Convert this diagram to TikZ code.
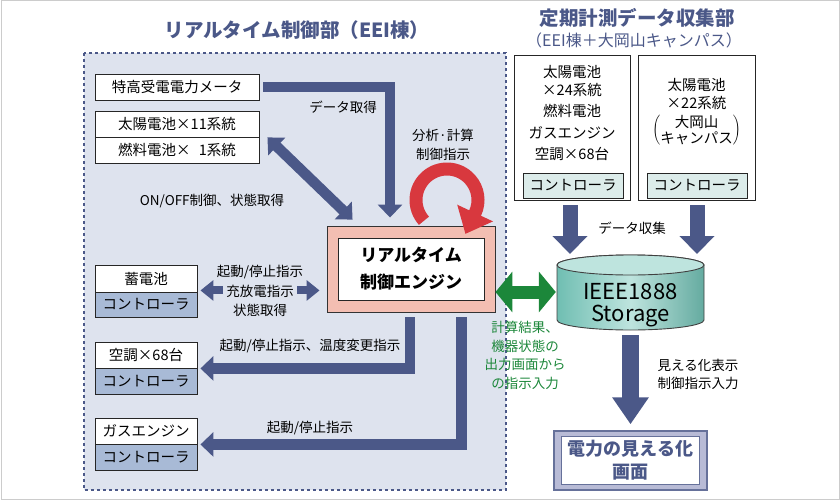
\documentclass[tikz,border=0pt]{standalone}
\usepackage{fontspec}
\setmainfont{Noto Sans CJK JP}
\usepackage{xcolor}
\usepackage{tikz}
\usetikzlibrary{calc,arrows.meta}
\definecolor{RTNavy}{RGB}{75, 88, 136}
\definecolor{RTRegion}{RGB}{222, 227, 238}
\definecolor{RTCtrl}{RGB}{168, 186, 214}
\definecolor{RTPink}{RGB}{243, 190, 178}
\definecolor{RTRed}{RGB}{216, 56, 62}
\definecolor{RTGreen}{RGB}{28, 135, 58}
\definecolor{RTTealCtrl}{RGB}{220, 236, 234}
\definecolor{RTTeal}{RGB}{112, 190, 178}
\definecolor{RTTealLight}{RGB}{190, 228, 222}
\definecolor{RTScreen}{RGB}{184, 187, 214}
\definecolor{RTFrame}{RGB}{204, 204, 204}
\newcommand{\fsz}[2]{\fontsize{#1}{#2}\selectfont}

\begin{document}
\begin{tikzpicture}[x=1pt, y=-1pt,
    box/.style={draw=black!85, line width=0.9pt, fill=white, inner sep=0pt, font=\fsz{14.5}{17}},
    ctrl/.style={box, fill=RTCtrl},
    lbl/.style={font=\fsz{13.5}{16}, align=center, inner sep=1pt},
    fat/.style={draw=RTNavy, line width=10.5pt, -{Triangle[length=13pt,width=24pt]}},
    fatboth/.style={draw=RTNavy, line width=10.5pt, {Triangle[length=13pt,width=24pt]}-{Triangle[length=13pt,width=24pt]}}]
    \useasboundingbox (0,0) rectangle (840,500);
    \draw[RTFrame, line width=1pt] (1,1) rectangle (839,499);

    % Realtime control area
    \fill[RTRegion] (84,53) rectangle (506,490);
    \draw[RTNavy, line width=2.4pt, dash pattern=on 3pt off 3pt] (84,53) rectangle (506,490);
    \node[font=\bfseries\fsz{19.5}{23}, text=RTNavy] (lefttitle) at (297,30) {リアルタイム制御部（EEI棟）};

    % Engine
    \node[draw=black!80, line width=0.9pt, fill=RTPink, minimum width=168pt, minimum height=86pt] (engine) at (411,269) {};
    \node[box, minimum width=146pt, minimum height=62pt, align=center, font=\bfseries\fsz{17}{27}] (enginein) at (411,269) {リアルタイム\\制御エンジン};

    % Devices (top)
    \node[box, minimum width=164pt, minimum height=26pt] (meter) at (177,87) {特高受電電力メータ};
    \node[box, minimum width=164pt, minimum height=26pt] (pv) at (177,124) {太陽電池×11系統};
    \node[box, minimum width=164pt, minimum height=26pt] (fc) at (177,150) {燃料電池×\hphantom{1}1系統};

    % Devices (bottom)
    \node[box, minimum width=102pt, minimum height=27pt] (bat) at (146,278.5) {蓄電池};
    \node[ctrl, minimum width=102pt, minimum height=25pt] (batc) at (146,304.5) {コントローラ};
    \node[box, minimum width=102pt, minimum height=26pt] (ac) at (146,355) {空調×68台};
    \node[ctrl, minimum width=102pt, minimum height=26pt] (acc) at (146,381) {コントローラ};
    \node[box, minimum width=102pt, minimum height=26pt] (ge) at (146,431) {ガスエンジン};
    \node[ctrl, minimum width=102pt, minimum height=26pt] (gec) at (146,457) {コントローラ};

    % Arrows in the control area
    \draw[fat] ([xshift=4pt]meter.east) -| ([xshift=-21pt,yshift=8pt]engine.north);
    \node[lbl] (getlbl) at (343,107) {データ取得};
    \draw[fatboth] ([xshift=8pt]pv.south east) -- ([xshift=26pt,yshift=6pt]engine.north west);
    \node[lbl] (onofflbl) at (212,201) {ON/OFF制御、状態取得};
    \node[lbl, font=\fsz{13.5}{19.5}] (calclbl) at (443,145) {分析·計算\\制御指示};
    \draw[draw=RTNavy, line width=8pt, {Triangle[length=13pt,width=20pt]}-{Triangle[length=13pt,width=20pt]}]
        ($(bat.south east)+(3,-2)$) -- ($(engine.west |- bat.south east)+(-7,-2)$);
    \node[lbl] (batlbl1) at (260,272) {起動/停止指示};
    \node[lbl, fill=RTRegion, inner sep=3pt] (batlbl2) at (260,291) {充放電指示};
    \node[lbl] (batlbl3) at (260,310) {状態取得};
    \draw[fat] ($(engine.south)+(-1,5)$) |- ([xshift=3pt]ac.south east);
    \node[lbl] (aclbl) at (310,346) {起動/停止指示、温度変更指示};
    \draw[fat] ($(engine.south east)+(-34,5)$) |- ([xshift=3pt]ge.south east);
    \node[lbl] (gelbl) at (310,428) {起動/停止指示};

    % Analysis loop
    \coordinate (loopc) at (447,200);
    \draw[RTRed, line width=13pt, -{Triangle[length=23pt,width=38pt]}]
        (loopc) ++(222:31pt) arc[start angle=222, end angle=-25, radius=31pt] -- ++(-9.7,20.8);

    % Periodic measurement area
    \node[font=\bfseries\fsz{19.5}{23}, text=RTNavy] (righttitle) at (637,18) {定期計測データ収集部};
    \node[font=\fsz{16}{18}, text=RTNavy] (rightsub) at (634,40) {（EEI棟＋大岡山キャンパス）};
    \node[box, minimum width=116pt, minimum height=145pt] (site1) at (572,127.5) {};
    \node[lbl, font=\fsz{14.5}{21.5}] (site1txt) at (572,113.5) {太陽電池\\[-4pt]×24系統\\燃料電池\\ガスエンジン\\空調×68台};
    \node[box, fill=RTTealCtrl, minimum width=100pt, minimum height=25pt] (site1c) at (573,185.5) {コントローラ};
    \node[box, minimum width=117pt, minimum height=145pt] (site2) at (696.5,127.5) {};
    \node[lbl, font=\fsz{14.5}{17.5}] (site2txt) at (696.5,112) {太陽電池\\×22系統\\[5pt]$\left(\vcenter{\hbox{\shortstack{大岡山\\キャンパス}}}\right)$};
    \node[box, fill=RTTealCtrl, minimum width=100pt, minimum height=25pt] (site2c) at (697,185.5) {コントローラ};

    % Storage
    \coordinate (cyltop) at (630.5,265);
    \coordinate (cylbot) at (630.5,320);
    \shade[left color=RTTeal, right color=RTTeal!90!black, middle color=RTTealLight, draw=black!75, line width=0.9pt]
        (cyltop) ++(-73.5,0) -- ++(0,55) arc[start angle=180, end angle=360, x radius=73.5pt, y radius=10pt]
        -- ++(0,-55) arc[start angle=0, end angle=180, x radius=73.5pt, y radius=10pt] -- cycle;
    \draw[fill=RTTealLight, draw=black!75, line width=0.9pt] (cyltop) ellipse [x radius=73.5pt, y radius=10pt];
    \node[minimum width=147pt, minimum height=50pt] (store) at (630.5,292) {};
    \node[font=\fsz{22}{22}, anchor=base, inner sep=0pt] (storetxt1) at (630.5,299.5) {IEEE1888};
    \node[font=\fsz{22}{22}, anchor=base, inner sep=0pt] (storetxt2) at (630.5,321.5) {Storage};
    \draw[draw=RTNavy, line width=15pt, -{Triangle[length=18pt,width=34pt]}] ($(site1.south)+(-2,5)$) -- ($(cyltop)+(-60.5,-11)$);
    \draw[draw=RTNavy, line width=15pt, -{Triangle[length=18pt,width=34pt]}] ($(site2.south)+(0.5,5)$) -- ($(cyltop)+(66.5,-11)$);
    \node[lbl] (collectlbl) at (632,228) {データ収集};

    % Green link
    \draw[draw=RTGreen, line width=13pt, {Triangle[length=17pt,width=40pt]}-{Triangle[length=17pt,width=40pt]}]
        (engine.east |- store.west) -- ([xshift=-1pt]store.west);
    \node[lbl, text=RTGreen, font=\fsz{13.5}{18.5}] (greenlbl) at (525,355.5) {計算結果、\\機器状態の\\出力画面から\\の指示入力};

    % Screen
    \node[draw=RTNavy!85, line width=1.5pt, fill=RTScreen, minimum width=153pt, minimum height=59pt] (screen) at (630.5,460.5) {};
    \node[draw=RTNavy!85, line width=1pt, fill=white, minimum width=138pt, minimum height=48pt, align=center,
        text=RTNavy, font=\bfseries\fsz{18}{23}] (screenin) at (630.5,460.5) {電力の見える化\\画面};
    \draw[draw=RTNavy, line width=17pt, -{Triangle[length=27pt,width=35pt]}] ($(cylbot)+(0,15)$) -- ([yshift=6pt]screen.north);
    \node[lbl, font=\fsz{13.5}{18}] (viewlbl) at (698,374) {見える化表示\\制御指示入力};
\end{tikzpicture}
\end{document}
